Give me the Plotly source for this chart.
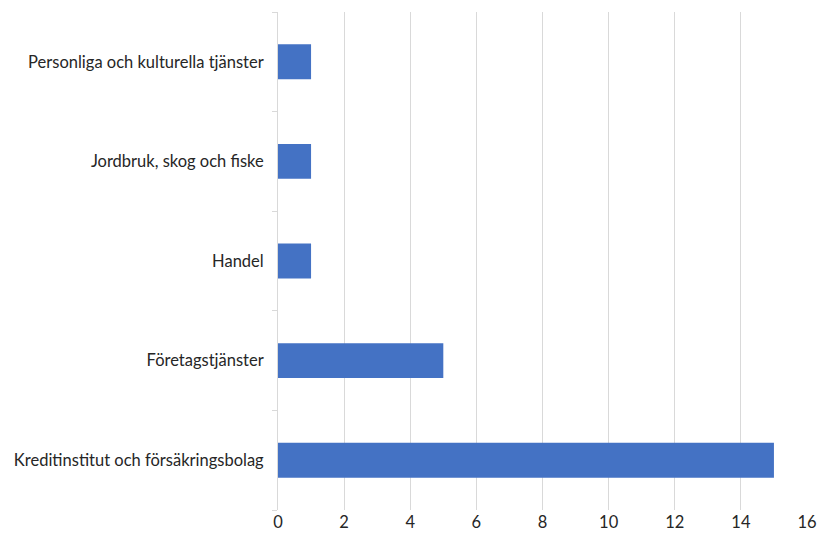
import plotly.graph_objects as go

categories = [
    "Kreditinstitut och försäkringsbolag",
    "Företagstjänster",
    "Handel",
    "Jordbruk, skog och fiske",
    "Personliga och kulturella tjänster",
]
values = [15, 5, 1, 1, 1]
x_ticks = [0, 2, 4, 6, 8, 10, 12, 14, 16]

fig = go.Figure(go.Bar(
    y=categories, x=values, orientation="h",
    marker=dict(color="#4472C4", line=dict(width=0)),
    width=0.35,
))

fig.update_layout(
    width=817, height=540,
    margin=dict(l=278, r=10, t=12, b=30),
    paper_bgcolor="white", plot_bgcolor="white",
    font=dict(family="Lato, Open Sans, sans-serif", size=16.5, color="#262626"),
    showlegend=False,
    bargap=0.65,
)
fig.update_xaxes(
    range=[0, 16], tickvals=x_ticks, showgrid=True, gridcolor="#d9d9d9",
    gridwidth=1, zeroline=False, showline=False, ticks="", automargin=False,
    tickfont=dict(size=16.5, color="#262626"),
)
fig.update_yaxes(
    type="category", categoryorder="array", categoryarray=categories,
    showline=True, linecolor="#d9d9d9", linewidth=1, automargin=False,
    ticks="outside", ticklen=5, tickcolor="#d9d9d9", tickson="boundaries",
    showgrid=False, ticklabelstandoff=10,
    tickfont=dict(size=16.5, color="#262626"),
)

# remove the default page margin so the 817x540 figure fills the window
fig.write_html(
    "out.html",
    config={"displayModeBar": False},
    post_script="document.body.style.margin='0';document.body.style.overflow='hidden';",
)
